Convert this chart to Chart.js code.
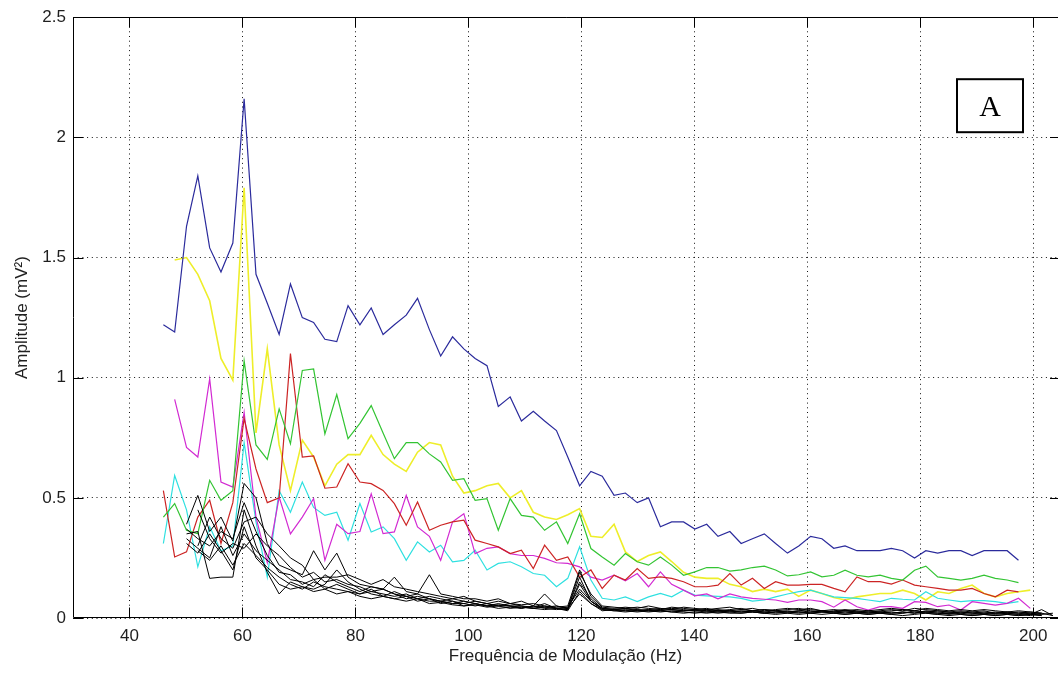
<!DOCTYPE html>
<html>
<head>
<meta charset="utf-8">
<title>Amplitude vs frequência de modulação</title>
<script src="https://cdn.jsdelivr.net/npm/chart.js@4.4.1/dist/chart.umd.min.js"></script>
<style>
  html, body { margin: 0; padding: 0; background: #fff; }
  canvas { display: block; }
</style>
</head>
<body>
<canvas id="chart" width="1058" height="673"></canvas>
<script>
// modulation frequencies (Hz), shared by every trace
const freq = [
  46.0, 48.0, 50.1, 52.1, 54.2, 56.2, 58.3, 60.3, 62.4, 64.4,
  66.5, 68.5, 70.6, 72.6, 74.6, 76.7, 78.7, 80.8, 82.8, 84.9,
  86.9, 89.0, 91.0, 93.1, 95.1, 97.2, 99.2, 101.2, 103.3, 105.3,
  107.4, 109.4, 111.5, 113.5, 115.6, 117.6, 119.7, 121.7, 123.7, 125.8,
  127.8, 129.9, 131.9, 134.0, 136.0, 138.1, 140.1, 142.2, 144.2, 146.3,
  148.3, 150.3, 152.4, 154.4, 156.5, 158.5, 160.6, 162.6, 164.7, 166.7,
  168.8, 170.8, 172.9, 174.9, 176.9, 179.0, 181.0, 183.1, 185.1, 187.2,
  189.2, 191.3, 193.3, 195.4, 197.4, 199.5, 201.5, 203.5
];

// amplitudes in mV^2 (null = no sample)
const blue = [
  1.22, 1.19, 1.63, 1.84, 1.54, 1.44, 1.56, 2.16, 1.43, 1.31,
  1.18, 1.39, 1.25, 1.23, 1.16, 1.15, 1.30, 1.22, 1.29, 1.18,
  1.22, 1.26, 1.33, 1.20, 1.09, 1.17, 1.12, 1.08, 1.05, 0.88,
  0.92, 0.82, 0.86, 0.82, 0.78, 0.67, 0.55, 0.61, 0.59, 0.51,
  0.52, 0.48, 0.50, 0.38, 0.40, 0.40, 0.37, 0.39, 0.34, 0.36,
  0.31, 0.33, 0.35, 0.31, 0.27, 0.30, 0.34, 0.33, 0.29, 0.30,
  0.28, 0.28, 0.28, 0.29, 0.28, 0.25, 0.28, 0.27, 0.28, 0.28,
  0.26, 0.28, 0.28, 0.28, 0.24, null, null, null
];
const yellow = [
  null, 1.49, 1.50, 1.43, 1.32, 1.08, 0.99, 1.79, 0.77, 1.12,
  0.72, 0.53, 0.74, 0.67, 0.55, 0.64, 0.68, 0.68, 0.76, 0.68,
  0.64, 0.61, 0.69, 0.73, 0.72, 0.59, 0.52, 0.53, 0.55, 0.56,
  0.50, 0.53, 0.44, 0.42, 0.41, 0.43, 0.455, 0.34, 0.335, 0.39,
  0.275, 0.235, 0.26, 0.275, 0.235, 0.19, 0.17, 0.165, 0.165, 0.14,
  0.13, 0.11, 0.12, 0.11, 0.12, 0.09, 0.116, 0.102, 0.085, 0.075,
  0.088, 0.095, 0.102, 0.102, 0.116, 0.102, 0.075, 0.109, 0.102, 0.123,
  0.137, 0.102, 0.088, 0.102, 0.109, 0.116, null, null
];
const green = [
  0.42, 0.476, 0.365, 0.351, 0.573, 0.49, 0.53, 1.07, 0.72, 0.66,
  0.87, 0.725, 1.03, 1.036, 0.766, 0.93, 0.746, 0.81, 0.884, 0.77,
  0.663, 0.73, 0.73, 0.683, 0.649, 0.573, 0.58, 0.49, 0.497, 0.365,
  0.497, 0.427, 0.42, 0.365, 0.40, 0.31, 0.434, 0.289, 0.254, 0.22,
  0.268, 0.234, 0.22, 0.254, 0.22, 0.178, 0.192, 0.21, 0.21, 0.195,
  0.20, 0.21, 0.216, 0.20, 0.175, 0.18, 0.192, 0.171, 0.178, 0.199,
  0.178, 0.171, 0.178, 0.165, 0.158, 0.199, 0.216, 0.171, 0.165, 0.158,
  0.165, 0.178, 0.165, 0.158, 0.147, null, null, null
];
const red = [
  0.53, 0.254, 0.275, 0.42, 0.49, 0.31, 0.48, 0.83, 0.62, 0.48,
  0.50, 1.10, 0.67, 0.675, 0.54, 0.545, 0.642, 0.566, 0.559, 0.531,
  0.476, 0.386, 0.483, 0.365, 0.386, 0.40, 0.407, 0.324, 0.31, 0.296,
  0.268, 0.282, 0.206, 0.303, 0.24, 0.254, 0.17, 0.20, 0.123, 0.178,
  0.158, 0.206, 0.165, 0.171, 0.165, 0.151, 0.13, 0.13, 0.137, 0.185,
  0.137, 0.165, 0.123, 0.151, 0.137, 0.137, 0.14, 0.14, 0.123, 0.109,
  0.171, 0.151, 0.151, 0.141, 0.158, 0.137, 0.13, 0.123, 0.116, 0.116,
  0.123, 0.102, 0.088, 0.116, 0.109, null, null, null
];
const magenta = [
  null, 0.91, 0.71, 0.67, 0.995, 0.566, 0.545, 0.856, 0.42, 0.23,
  0.503, 0.35, 0.42, 0.497, 0.24, 0.39, 0.351, 0.36, 0.517, 0.351,
  0.358, 0.51, 0.379, 0.34, 0.24, 0.40, 0.434, 0.268, 0.29, 0.296,
  0.268, 0.26, 0.26, 0.248, 0.23, 0.227, 0.213, 0.17, 0.158, 0.178,
  0.155, 0.185, 0.13, 0.192, 0.14, 0.116, 0.092, 0.10, 0.08, 0.10,
  0.088, 0.082, 0.078, 0.075, 0.065, 0.075, 0.075, 0.068, 0.045, 0.075,
  0.047, 0.033, 0.047, 0.047, 0.04, 0.068, 0.065, 0.047, 0.054, 0.033,
  0.068, 0.061, 0.054, 0.061, 0.082, 0.04, null, null
];
const cyan = [
  0.31, 0.593, 0.45, 0.213, 0.38, 0.28, 0.30, 0.73, 0.40, 0.17,
  0.53, 0.44, 0.566, 0.46, 0.427, 0.44, 0.324, 0.476, 0.358, 0.379,
  0.33, 0.24, 0.317, 0.275, 0.303, 0.234, 0.24, 0.282, 0.20, 0.227,
  0.234, 0.213, 0.185, 0.178, 0.13, 0.165, 0.296, 0.158, 0.082, 0.075,
  0.088, 0.068, 0.088, 0.102, 0.088, 0.116, 0.095, 0.092, 0.09, 0.088,
  0.082, 0.07, 0.075, 0.088, 0.10, 0.11, 0.116, 0.102, 0.088, 0.085,
  0.082, 0.075, 0.068, 0.082, 0.078, 0.075, 0.109, 0.082, 0.075, 0.068,
  0.072, 0.072, 0.068, 0.061, 0.068, null, null, null
];

// black traces
const black1 = [
  null, null, 0.39, 0.51, 0.36, 0.42, 0.32, 0.56, 0.50, 0.31,
  0.22, 0.20, 0.18, 0.28, 0.20, 0.27, 0.17, 0.14, 0.13, 0.12,
  0.17, 0.11, 0.10, 0.18, 0.10, 0.09, 0.08, 0.08, 0.07, 0.08,
  0.06, 0.07, 0.05, 0.10, 0.05, 0.04, 0.19, 0.10, 0.05, 0.045,
  0.04, 0.045, 0.04, 0.035, 0.045, 0.04, 0.035, 0.04, 0.03, 0.035,
  0.04, 0.03, 0.035, 0.03, 0.035, 0.04, 0.03, 0.025, 0.03, 0.035,
  0.03, 0.025, 0.03, 0.035, 0.03, 0.04, 0.035, 0.03, 0.025, 0.03,
  0.025, 0.03, 0.02, 0.025, 0.02, 0.015, 0.035, 0.01
];
const black2 = [
  null, null, 0.35, 0.36, 0.165, 0.17, 0.17, 0.45, 0.30, 0.19,
  0.10, 0.15, 0.13, 0.12, 0.14, 0.20, 0.15, 0.12, 0.10, 0.09,
  0.11, 0.09, 0.08, 0.07, 0.07, 0.06, 0.06, 0.05, 0.06, 0.05,
  0.05, 0.045, 0.04, 0.05, 0.04, 0.035, 0.15, 0.08, 0.04, 0.035,
  0.03, 0.035, 0.03, 0.03, 0.035, 0.03, 0.03, 0.025, 0.03, 0.025,
  0.03, 0.025, 0.02, 0.025, 0.03, 0.025, 0.02, 0.025, 0.02, 0.025,
  0.02, 0.025, 0.02, 0.025, 0.02, 0.03, 0.025, 0.02, 0.02, 0.025,
  0.02, 0.015, 0.02, 0.02, 0.015, 0.02, 0.015, null
];
const black3 = [
  null, null, null, 0.30, 0.42, 0.33, 0.29, 0.40, 0.42, 0.35,
  0.30, 0.25, 0.22, 0.16, 0.17, 0.17, 0.18, 0.16, 0.14, 0.16,
  0.13, 0.12, 0.11, 0.10, 0.09, 0.08, 0.09, 0.07, 0.06, 0.07,
  0.06, 0.055, 0.06, 0.05, 0.045, 0.05, 0.20, 0.09, 0.045, 0.04,
  0.045, 0.04, 0.05, 0.04, 0.035, 0.045, 0.04, 0.035, 0.04, 0.045,
  0.035, 0.04, 0.03, 0.035, 0.04, 0.035, 0.04, 0.03, 0.035, 0.03,
  0.035, 0.03, 0.035, 0.04, 0.035, 0.03, 0.04, 0.035, 0.03, 0.035,
  0.03, 0.035, 0.03, 0.025, 0.03, 0.025, 0.02, null
];
const black4 = [
  null, null, 0.33, 0.29, 0.25, 0.38, 0.26, 0.35, 0.28, 0.24,
  0.20, 0.16, 0.15, 0.13, 0.18, 0.15, 0.13, 0.11, 0.13, 0.12,
  0.10, 0.09, 0.10, 0.08, 0.07, 0.08, 0.07, 0.06, 0.05, 0.06,
  0.05, 0.05, 0.045, 0.06, 0.04, 0.045, 0.12, 0.07, 0.035, 0.03,
  0.035, 0.03, 0.035, 0.03, 0.025, 0.03, 0.035, 0.03, 0.025, 0.03,
  0.025, 0.03, 0.025, 0.02, 0.025, 0.03, 0.025, 0.03, 0.025, 0.02,
  0.025, 0.02, 0.025, 0.02, 0.025, 0.02, 0.025, 0.02, 0.015, 0.02,
  0.015, 0.02, 0.015, 0.02, 0.015, 0.01, 0.02, null
];
const black5 = [
  null, null, null, 0.28, 0.24, 0.30, 0.22, 0.31, 0.26, 0.21,
  0.17, 0.14, 0.12, 0.15, 0.13, 0.12, 0.11, 0.10, 0.12, 0.09,
  0.08, 0.09, 0.07, 0.08, 0.06, 0.07, 0.05, 0.06, 0.05, 0.04,
  0.045, 0.04, 0.05, 0.04, 0.035, 0.04, 0.10, 0.06, 0.03, 0.035,
  0.03, 0.025, 0.03, 0.025, 0.03, 0.025, 0.02, 0.025, 0.02, 0.025,
  0.02, 0.025, 0.02, 0.015, 0.02, 0.025, 0.02, 0.015, 0.02, 0.015,
  0.02, 0.015, 0.02, 0.015, 0.02, 0.025, 0.02, 0.015, 0.02, 0.015,
  0.01, 0.015, 0.01, 0.015, 0.01, 0.015, 0.01, null
];
const black6 = [
  null, null, 0.37, 0.33, 0.30, 0.36, 0.33, 0.48, 0.36, 0.26,
  0.19, 0.18, 0.14, 0.16, 0.12, 0.14, 0.12, 0.10, 0.11, 0.10,
  0.09, 0.10, 0.08, 0.09, 0.08, 0.07, 0.06, 0.07, 0.06, 0.05,
  0.06, 0.05, 0.04, 0.045, 0.05, 0.04, 0.17, 0.07, 0.04, 0.035,
  0.04, 0.035, 0.03, 0.035, 0.04, 0.035, 0.03, 0.035, 0.03, 0.03,
  0.035, 0.03, 0.025, 0.03, 0.025, 0.03, 0.035, 0.03, 0.025, 0.03,
  0.025, 0.03, 0.025, 0.03, 0.035, 0.03, 0.025, 0.03, 0.025, 0.02,
  0.025, 0.02, 0.025, 0.02, 0.025, 0.02, 0.015, 0.02
];
const black7 = [
  null, null, null, 0.45, 0.33, 0.27, 0.31, 0.29, 0.35, 0.30,
  0.26, 0.21, 0.17, 0.19, 0.15, 0.16, 0.14, 0.13, 0.11, 0.12,
  0.10, 0.08, 0.09, 0.08, 0.07, 0.06, 0.07, 0.06, 0.05, 0.055,
  0.05, 0.04, 0.05, 0.045, 0.04, 0.035, 0.14, 0.07, 0.04, 0.035,
  0.04, 0.03, 0.035, 0.04, 0.035, 0.03, 0.035, 0.03, 0.035, 0.03,
  0.025, 0.03, 0.035, 0.03, 0.025, 0.02, 0.025, 0.03, 0.025, 0.03,
  0.025, 0.02, 0.025, 0.02, 0.025, 0.02, 0.03, 0.025, 0.02, 0.025,
  0.02, 0.025, 0.02, 0.025, 0.02, 0.025, 0.02, 0.01
];
const black8 = [
  null, null, 0.31, 0.27, 0.35, 0.28, 0.20, 0.38, 0.25, 0.20,
  0.14, 0.12, 0.13, 0.11, 0.12, 0.10, 0.11, 0.09, 0.08, 0.09,
  0.08, 0.07, 0.08, 0.06, 0.065, 0.055, 0.05, 0.055, 0.045, 0.05,
  0.04, 0.045, 0.04, 0.035, 0.04, 0.03, 0.11, 0.06, 0.035, 0.03,
  0.025, 0.03, 0.025, 0.03, 0.025, 0.02, 0.025, 0.02, 0.025, 0.02,
  0.02, 0.025, 0.02, 0.025, 0.02, 0.015, 0.02, 0.025, 0.02, 0.015,
  0.02, 0.015, 0.02, 0.015, 0.01, 0.015, 0.02, 0.015, 0.01, 0.015,
  0.01, 0.015, 0.01, 0.015, 0.01, 0.015, 0.01, null
];

const xTitle = "Frequência de Modulação (Hz)";
const yTitle = "Amplitude (mV²)";
const panelLabel = "A";

const textColor = "#1f1f1f";
const tickFont = { family: "'Liberation Sans', Arial, sans-serif", size: 17 };

// pair each amplitude with its frequency, skipping missing samples
function toPoints(values) {
  const pts = [];
  values.forEach(function (v, i) {
    if (v !== null) pts.push({ x: freq[i], y: v });
  });
  return pts;
}

function trace(values, color, width, order) {
  return {
    data: toPoints(values),
    borderColor: color,
    borderWidth: width,
    pointRadius: 0,
    tension: 0,
    fill: false,
    order: order,
  };
}

// box (right edge runs off the canvas), inward tick marks and the panel letter
const framePlugin = {
  id: "frame",
  afterDraw(chart) {
    const ctx = chart.ctx;
    const a = chart.chartArea;
    const xs = chart.scales.x;
    const ys = chart.scales.y;
    const tl = 10;
    const L = Math.round(a.left) + 0.5;
    const T = Math.round(a.top) + 0.5;
    const B = Math.round(a.bottom) - 0.5;
    ctx.save();
    ctx.strokeStyle = "#000";
    ctx.lineWidth = 1;
    ctx.beginPath();
    ctx.moveTo(a.right + 2, T);
    ctx.lineTo(L, T);
    ctx.lineTo(L, B);
    ctx.lineTo(a.right + 2, B);
    xs.ticks.forEach(function (t) {
      const px = Math.round(xs.getPixelForValue(t.value)) + 0.5;
      ctx.moveTo(px, B);
      ctx.lineTo(px, B - tl);
      ctx.moveTo(px, T);
      ctx.lineTo(px, T + tl);
    });
    ys.ticks.forEach(function (t) {
      const py = Math.round(ys.getPixelForValue(t.value)) + 0.5;
      ctx.moveTo(L, py);
      ctx.lineTo(L + tl, py);
      ctx.moveTo(a.right + 2, py);
      ctx.lineTo(a.right + 2 - tl, py);
    });
    ctx.stroke();

    // panel letter in its own box
    const bx = a.left + 884, by = a.top + 62, bw = 66, bh = 53;
    ctx.fillStyle = "#fff";
    ctx.fillRect(bx, by, bw, bh);
    ctx.lineWidth = 2;
    ctx.strokeRect(bx, by, bw, bh);
    ctx.fillStyle = "#000";
    ctx.font = "30px 'Liberation Serif', 'Times New Roman', serif";
    ctx.textAlign = "center";
    ctx.textBaseline = "middle";
    ctx.fillText(panelLabel, bx + bw / 2, by + bh / 2 + 2);
    ctx.restore();
  },
};

const chart = new Chart(document.getElementById("chart"), {
  type: "line",
  data: {
    datasets: [
      trace(blue, "#2b2b9c", 1.2, 2),
      trace(green, "#33c433", 1.2, 3),
      trace(yellow, "#eeee2a", 1.6, 4),
      trace(red, "#cc2424", 1.2, 3),
      trace(magenta, "#d22ad2", 1.2, 3),
      trace(cyan, "#2ee0e0", 1.2, 3),
      trace(black1, "#000", 1, 1),
      trace(black2, "#000", 1, 1),
      trace(black3, "#000", 1, 1),
      trace(black4, "#000", 1, 1),
      trace(black5, "#000", 1, 1),
      trace(black6, "#000", 1, 1),
      trace(black7, "#000", 1, 1),
      trace(black8, "#000", 1, 1),
    ],
  },
  options: {
    responsive: false,
    animation: false,
    devicePixelRatio: 1,
    layout: { padding: { left: 0, top: 16, right: 0, bottom: 0 } },
    plugins: {
      legend: { display: false },
      tooltip: { enabled: false },
    },
    scales: {
      x: {
        type: "linear",
        min: 30,
        max: 204.4,
        afterFit(scale) { scale.height = 55; },
        ticks: {
          stepSize: 20,
          includeBounds: false,
          color: textColor,
          font: tickFont,
          padding: 8,
          maxRotation: 0,
        },
        grid: { color: "#111", lineWidth: 1, drawTicks: false },
        border: { display: false, dash: [1, 3.7] },
        title: {
          display: true,
          text: xTitle,
          color: textColor,
          font: tickFont,
          padding: { top: 0, bottom: 6 },
        },
      },
      y: {
        type: "linear",
        min: 0,
        max: 2.5,
        afterFit(scale) { scale.width = 73; },
        ticks: {
          stepSize: 0.5,
          color: textColor,
          font: tickFont,
          padding: 7,
          callback: function (v) { return String(+v.toFixed(2)); },
        },
        grid: { color: "#111", lineWidth: 1, drawTicks: false },
        border: { display: false, dash: [1, 3.7] },
        title: {
          display: true,
          text: yTitle,
          color: textColor,
          font: tickFont,
          padding: { top: 12, bottom: 0 },
        },
      },
    },
  },
  plugins: [framePlugin],
});
</script>
</body>
</html>
